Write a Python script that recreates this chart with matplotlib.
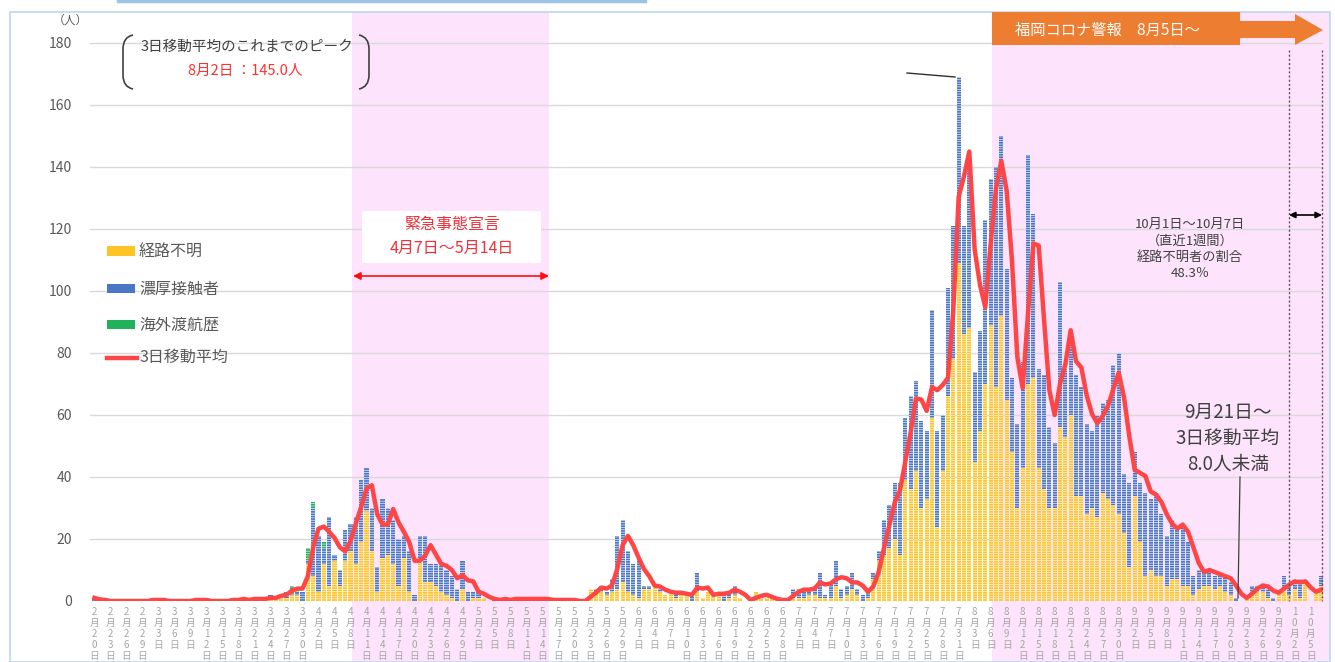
import numpy as np
import pandas as pd
import matplotlib
matplotlib.use("Agg")
import matplotlib.pyplot as plt
from matplotlib.patches import Rectangle, Polygon, PathPatch
from matplotlib.path import Path
from matplotlib.lines import Line2D
from matplotlib.transforms import blended_transform_factory

plt.rcParams['font.family'] = ['Noto Sans CJK JP', 'DejaVu Sans']
plt.rcParams['hatch.linewidth'] = 0.45

# 日付（2020/2/20 ～ 10/7）
dates = pd.date_range('2020-02-20', '2020-10-07')

# 経路不明
unknown = [0, 0, 0, 0, 0, 0, 0, 0, 0, 0,
           0, 0, 0, 0, 0, 0, 0, 0, 0, 1,
           0, 0, 0, 0, 0, 0, 0, 0, 0, 0,
           0, 1, 0, 1, 1, 1, 1, 2, 2, 0,
           12, 8, 3, 12, 5, 13, 5, 13, 16, 12,
           19, 29, 16, 3, 14, 15, 12, 5, 14, 3,
           0, 13, 6, 6, 5, 3, 2, 1, 0, 4,
           0, 1, 1, 1, 0, 0, 0, 1, 0, 0,
           1, 0, 1, 0, 0, 1, 0, 0, 1, 0,
           0, 0, 0, 4, 3, 3, 2, 3, 4, 6,
           3, 2, 1, 4, 4, 5, 3, 2, 3, 1,
           2, 2, 0, 3, 1, 3, 2, 2, 0, 1,
           2, 1, 0, 0, 3, 2, 1, 1, 0, 0,
           1, 1, 1, 1, 2, 2, 1, 1, 1, 5,
           1, 2, 4, 2, 0, 1, 7, 13, 15, 17,
           20, 15, 39, 36, 42, 30, 33, 59, 24, 42,
           66, 78, 109, 86, 88, 45, 55, 70, 89, 69,
           92, 65, 48, 30, 43, 70, 72, 43, 36, 30,
           30, 56, 53, 60, 34, 34, 28, 30, 27, 35,
           33, 31, 28, 22, 11, 34, 19, 8, 10, 8,
           8, 5, 7, 7, 5, 5, 2, 4, 5, 5,
           4, 5, 3, 2, 0, 0, 1, 2, 3, 3,
           1, 0, 3, 4, 2, 4, 1, 6, 0, 3,
           5]

# 濃厚接触者
contact = [1, 0, 0, 0, 0, 0, 0, 0, 0, 0,
           0, 1, 0, 0, 0, 0, 0, 0, 0, 0,
           0, 0, 0, 0, 0, 0, 1, 0, 0, 0,
           1, 0, 0, 1, 0, 1, 1, 1, 1, 3,
           1, 22, 18, 5, 22, 2, 5, 10, 9, 15,
           20, 14, 14, 8, 19, 15, 14, 15, 7, 13,
           2, 8, 15, 6, 7, 9, 8, 7, 4, 9,
           3, 2, 2, 0, 0, 1, 0, 0, 0, 1,
           0, 0, 0, 1, 0, 0, 0, 0, 0, 0,
           0, 0, 0, 0, 1, 2, 1, 4, 17, 20,
           13, 10, 13, 1, 1, 0, 1, 0, 0, 2,
           0, 0, 2, 6, 0, 0, 0, 0, 3, 2,
           3, 0, 0, 0, 0, 0, 0, 0, 0, 0,
           0, 3, 3, 2, 2, 3, 8, 1, 5, 8,
           3, 3, 5, 2, 2, 2, 2, 3, 11, 14,
           18, 23, 20, 30, 29, 28, 22, 35, 31, 18,
           35, 43, 60, 35, 57, 29, 32, 53, 47, 71,
           58, 42, 24, 27, 34, 74, 53, 32, 37, 26,
           21, 47, 22, 24, 39, 35, 29, 25, 33, 29,
           32, 45, 52, 19, 27, 14, 19, 27, 23, 27,
           20, 16, 19, 16, 20, 14, 6, 6, 5, 5,
           4, 3, 5, 4, 1, 0, 1, 3, 2, 2,
           3, 1, 0, 4, 3, 2, 6, 0, 0, 0,
           3]

# 海外渡航歴
overseas = [0, 0, 0, 0, 0, 0, 0, 0, 0, 0,
            0, 0, 0, 0, 0, 0, 0, 0, 0, 0,
            0, 0, 0, 0, 0, 0, 0, 0, 1, 0,
            0, 0, 0, 0, 0, 0, 1, 2, 1, 0,
            4, 2, 0, 2, 0, 0, 0, 0, 0, 0] + [0] * 181

yticks = list(range(0, 181, 20))

W, H = 1335, 662


def px(x, y):
    # 画像のピクセル座標 -> figure 座標
    return (x / W, 1 - y / H)


YELLOW = '#FFC423'
BLUE = '#4A76C6'
GREEN = '#1FB25A'
RED = '#FF4545'
PINK = '#FDE3FB'
GRAY = '#595959'

fig = plt.figure(figsize=(13.35, 6.62), dpi=100)
ax = fig.add_axes([90 / W, 1 - 601 / H, (1323 - 90) / W, (601 - 12) / H])

x = np.arange(len(dates))
u = np.array(unknown)
c = np.array(contact)
o = np.array(overseas)
ma3 = pd.Series(u + c + o).rolling(3, min_periods=1).mean()

# ピンクの期間（緊急事態宣言 / 福岡コロナ警報）
trans = blended_transform_factory(ax.transData, fig.transFigure)
for x0, x1 in [(48.3, 85.2), (168.2, 231.6)]:
    ax.add_patch(Rectangle((x0, 0), x1 - x0, 1 - 12 / H, transform=trans,
                           fc=PINK, ec='none', zorder=0, clip_on=False))

bw = 0.78
kw = dict(width=bw, linewidth=0, edgecolor='white', hatch='-------', zorder=2)
ax.bar(x, u, color=YELLOW, **kw)
ax.bar(x, c, bottom=u, color=BLUE, **kw)
ax.bar(x, o, bottom=u + c, color=GREEN, **kw)
ax.plot(x, ma3, color=RED, lw=3.2, zorder=3, solid_joinstyle='round')

ax.set_xlim(-0.84, 230.3)
ax.set_ylim(0, 190)
ax.set_yticks(yticks)
ax.grid(axis='y', color='#D9D9D9', lw=1)
ax.set_axisbelow(True)
for s in ax.spines.values():
    s.set_visible(False)

tick_idx = x[::3]
tick_lab = ['\n'.join(f'{dates[i].month}月{dates[i].day}日') for i in tick_idx]
ax.set_xticks(tick_idx)
ax.set_xticklabels(tick_lab, fontsize=7, color='#A6A6A6', linespacing=1.15)
ax.tick_params(axis='x', length=0, pad=4)
ax.tick_params(axis='y', length=0, pad=13, labelsize=10, labelcolor=GRAY)

fig.text(*px(70, 20), '（人）', fontsize=8.5, color=GRAY, ha='center', va='center')

# 外枠
fig.add_artist(Rectangle(px(10, 662), 1320 / W, 650 / H, transform=fig.transFigure,
                         fill=False, ec='#BDD7EE', lw=1.2))
fig.add_artist(Line2D([118 / W, 645 / W], [1 - 1 / H, 1 - 1 / H], transform=fig.transFigure,
                      color='#9DC3E6', lw=2.5))

# 凡例
leg = [('経路不明', YELLOW, 251), ('濃厚接触者', BLUE, 289), ('海外渡航歴', GREEN, 325)]
for name, col, yy in leg:
    fig.add_artist(Rectangle(px(107, yy + 4.5), 28 / W, 9 / H, transform=fig.transFigure,
                             fc=col, ec='none'))
    fig.text(*px(139, yy), name, fontsize=11.5, color=GRAY, va='center')
fig.add_artist(Line2D([107 / W, 137 / W], [1 - 358 / H] * 2, transform=fig.transFigure,
                      color=RED, lw=3.2))
fig.text(*px(139, 357), '3日移動平均', fontsize=11.5, color=GRAY, va='center')


# かっこ
def bracket(xx, y0, y1, left=True):
    d = 10 if left else -10
    verts = [px(xx + d, y0), px(xx, y0 + 2), px(xx, y0 + 14),
             px(xx, y1 - 14), px(xx, y1 - 2), px(xx + d, y1)]
    codes = [Path.MOVETO, Path.CURVE3, Path.CURVE3, Path.LINETO, Path.CURVE3, Path.CURVE3]
    fig.add_artist(PathPatch(Path(verts, codes), transform=fig.transFigure,
                             fill=False, ec='#404040', lw=1.2))


bracket(123, 35, 89, True)
bracket(369, 35, 89, False)
fig.text(*px(247, 47), '3日移動平均のこれまでのピーク', fontsize=10.5, color='#404040',
         ha='center', va='center')
fig.text(*px(245, 71), '8月2日 ：145.0人', fontsize=10.5, color='#FF3030',
         ha='center', va='center')

# ピークへの引き出し線
fig.add_artist(Line2D([907 / W, 955 / W], [1 - 73 / H, 1 - 77 / H], transform=fig.transFigure,
                      color='#303030', lw=1))

# 福岡コロナ警報
fig.add_artist(Rectangle(px(992, 45), (1240 - 992) / W, 33 / H, transform=fig.transFigure,
                         fc='#ED7D31', ec='none'))
fig.text(*px(1015, 30), '福岡コロナ警報　8月5日～', fontsize=11, color='white', va='center')
arrow = [(1238, 21), (1295, 21), (1295, 14), (1323, 30), (1295, 45), (1295, 38), (1238, 38)]
fig.add_artist(Polygon([px(a, b) for a, b in arrow], closed=True, transform=fig.transFigure,
                       fc='#ED7D31', ec='none'))

# 緊急事態宣言
fig.add_artist(Rectangle(px(362, 263), 179 / W, 52 / H, transform=fig.transFigure,
                         fc='white', ec='none'))
fig.text(*px(452, 225), '緊急事態宣言', fontsize=11.5, color='#F0303A', ha='center', va='center')
fig.text(*px(452, 248), '4月7日～5月14日', fontsize=11.5, color='#F0303A', ha='center', va='center')
ax.annotate('', xy=px(549, 276), xytext=px(353, 276), xycoords='figure fraction',
            textcoords='figure fraction',
            arrowprops=dict(arrowstyle='<|-|>', color='#FF1010', lw=1.2,
                            mutation_scale=11, shrinkA=0, shrinkB=0))

# 直近1週間
for xx in (1289, 1322):
    fig.add_artist(Line2D([xx / W] * 2, [1 - 50 / H, 1 - 601 / H], transform=fig.transFigure,
                          color=GRAY, lw=1, ls=(0, (1.5, 1.5))))
ax.annotate('', xy=px(1322, 215), xytext=px(1289, 215), xycoords='figure fraction',
            textcoords='figure fraction',
            arrowprops=dict(arrowstyle='<|-|>', color='black', lw=1.2,
                            mutation_scale=9, shrinkA=0, shrinkB=0))
fig.text(*px(1190, 249), '10月1日～10月7日\n（直近1週間）\n経路不明者の割合\n48.3％',
         fontsize=9.5, color='#404040', ha='center', va='center', linespacing=1.35)

# 9月21日～
fig.text(*px(1228, 438), '9月21日～\n3日移動平均\n8.0人未満', fontsize=13.5,
         color='#404040', ha='center', va='center', linespacing=1.3)
fig.add_artist(Line2D([1240 / W, 1238 / W], [1 - 477 / H, 1 - 598 / H], transform=fig.transFigure,
                      color='#404040', lw=0.9))

fig.savefig('out.png', dpi=100)
